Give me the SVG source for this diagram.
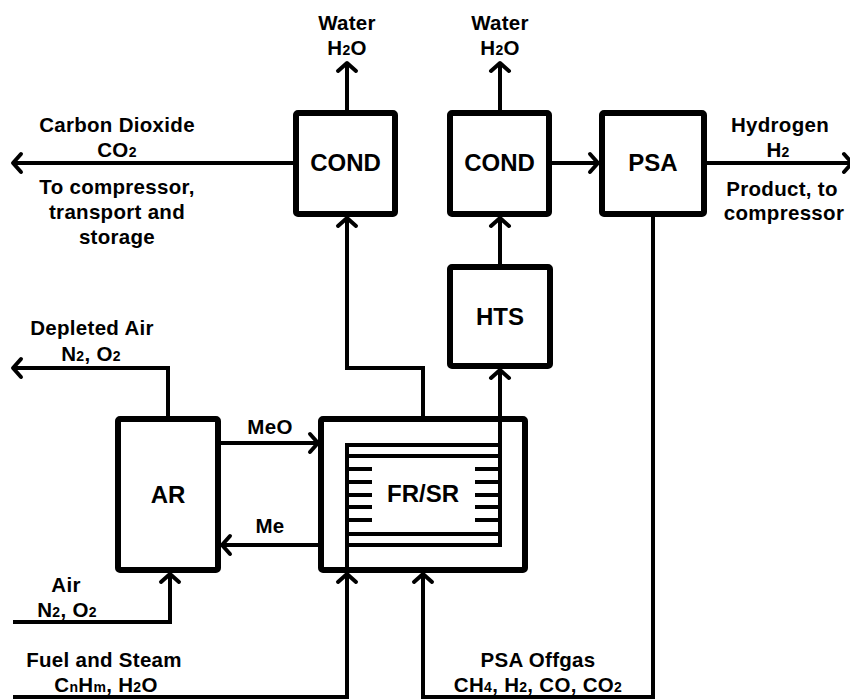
<svg xmlns="http://www.w3.org/2000/svg" width="850" height="700" viewBox="0 0 850 700">
<style>
.box{fill:none;stroke:#000;stroke-width:6;stroke-linejoin:round}
.inner{fill:none;stroke:#000;stroke-width:4}
.c{fill:none;stroke:#000;stroke-width:4}
.t{font-family:"Liberation Sans",Arial,sans-serif;font-weight:bold;font-size:20.5px;text-anchor:middle;fill:#000;letter-spacing:0.3px}
.bl{font-family:"Liberation Sans",Arial,sans-serif;font-weight:bold;font-size:24px;text-anchor:middle;fill:#000}
.s{font-size:14px}
</style>
<defs>
<marker id="ah" markerUnits="userSpaceOnUse" markerWidth="24" markerHeight="24" viewBox="-12 -12 24 24" refX="0" refY="0" orient="auto">
<path d="M-8,-9 L0,0 L-8,9" fill="none" stroke="#000" stroke-width="4" stroke-linecap="round" stroke-linejoin="round"/>
</marker>
</defs>
<rect width="850" height="700" fill="#fff"/>
<g id="connectors">
<path class="c" d="M347,110 L347,63" marker-end="url(#ah)"/>
<path class="c" d="M500,110 L500,63" marker-end="url(#ah)"/>
<path class="c" d="M293,163 L13,163" marker-end="url(#ah)"/>
<path class="c" d="M552,163 L598,163" marker-end="url(#ah)"/>
<path class="c" d="M707,163 L852,163" marker-end="url(#ah)"/>
<path class="c" d="M653,217 L653,697 L423,697 L423,574" marker-end="url(#ah)"/>
<path class="c" d="M13,697 L347,697 L347,574" marker-end="url(#ah)"/>
<path class="c" d="M13,622 L170,622 L170,574" marker-end="url(#ah)"/>
<path class="c" d="M168,416 L168,368 L13,368" marker-end="url(#ah)"/>
<path class="c" d="M221,443 L318,443" marker-end="url(#ah)"/>
<path class="c" d="M318,545 L222,545" marker-end="url(#ah)"/>
<path class="c" d="M423,416 L423,368 L347,368 L347,218" marker-end="url(#ah)"/>
<path class="c" d="M500,445 L500,370" marker-end="url(#ah)"/>
<path class="c" d="M500,264 L500,218" marker-end="url(#ah)"/>
<path class="c" d="M347,574 L347,545"/>
</g>
<g id="cond1">
<rect class="box" x="296" y="113" width="99" height="101" rx="2"/>
<text class="bl" x="345.5" y="171">COND</text>
</g>
<g id="cond2">
<rect class="box" x="450" y="113" width="99" height="101" rx="2"/>
<text class="bl" x="499.5" y="171">COND</text>
</g>
<g id="psa">
<rect class="box" x="602" y="113" width="102" height="101" rx="2"/>
<text class="bl" x="653" y="171">PSA</text>
</g>
<g id="hts">
<rect class="box" x="450" y="267" width="100" height="99" rx="2"/>
<text class="bl" x="500" y="325">HTS</text>
</g>
<g id="ar">
<rect class="box" x="118" y="419" width="100" height="151" rx="2"/>
<text class="bl" x="168" y="503">AR</text>
</g>
<g id="frsr">
<rect class="box" x="321" y="419" width="204" height="151" rx="2"/>
<rect class="inner" x="347" y="445" width="153" height="100"/>
<path class="inner" d="M347,456 H500 M347,534 H500 M347,469 H372 M347,482 H372 M347,495 H372 M347,507 H372 M347,520 H372 M475,469 H500 M475,482 H500 M475,495 H500 M475,507 H500 M475,520 H500"/>
<text class="bl" x="423" y="502">FR/SR</text>
</g>
<g id="labels">
<text class="t" x="347" y="30">Water</text>
<text class="t" x="347" y="55">H<tspan class="s">2</tspan>O</text>
<text class="t" x="500" y="30">Water</text>
<text class="t" x="500" y="55">H<tspan class="s">2</tspan>O</text>
<text class="t" x="117" y="132">Carbon Dioxide</text>
<text class="t" x="117" y="157">CO<tspan class="s">2</tspan></text>
<text class="t" x="117" y="194">To compressor,</text>
<text class="t" x="117" y="219">transport and</text>
<text class="t" x="117" y="244">storage</text>
<text class="t" x="780" y="132">Hydrogen</text>
<text class="t" x="778" y="157">H<tspan class="s">2</tspan></text>
<text class="t" x="782" y="196">Product, to</text>
<text class="t" x="784" y="220">compressor</text>
<text class="t" x="92" y="335">Depleted Air</text>
<text class="t" x="91" y="361">N<tspan class="s">2</tspan>, O<tspan class="s">2</tspan></text>
<text class="t" x="270" y="434">MeO</text>
<text class="t" x="270" y="533">Me</text>
<text class="t" x="66" y="592">Air</text>
<text class="t" x="67" y="617">N<tspan class="s">2</tspan>, O<tspan class="s">2</tspan></text>
<text class="t" x="104" y="667">Fuel and Steam</text>
<text class="t" x="106" y="692">C<tspan class="s">n</tspan>H<tspan class="s">m</tspan>, H<tspan class="s">2</tspan>O</text>
<text class="t" x="538" y="667">PSA Offgas</text>
<text class="t" x="538" y="692">CH<tspan class="s">4</tspan>, H<tspan class="s">2</tspan>, CO, CO<tspan class="s">2</tspan></text>
</g>
</svg>
